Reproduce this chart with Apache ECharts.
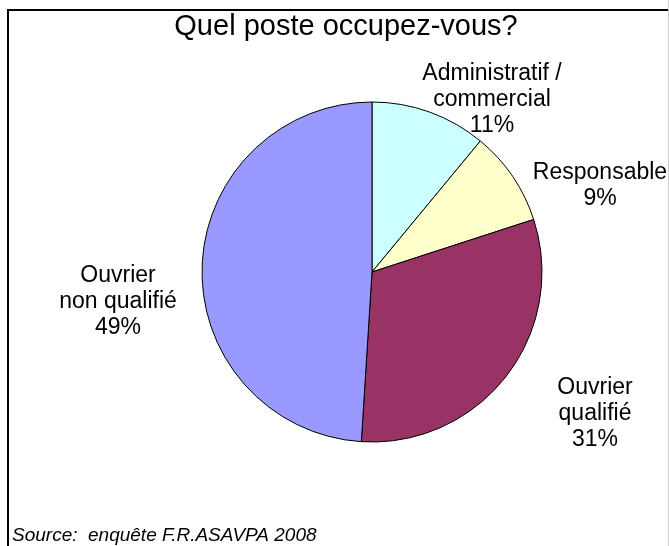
<!DOCTYPE html>
<html>
<head>
<meta charset="utf-8">
<script src="https://cdn.jsdelivr.net/npm/echarts@6/dist/echarts.min.js"></script>
<style>html,body{margin:0;padding:0;background:#fff}#c{width:669px;height:546px}</style>
</head>
<body>
<div id="c"></div>
<script>
const titleText = 'Quel poste occupez-vous?';
const sourceText = 'Source:  enquête F.R.ASAVPA 2008';
const categories = ['Administratif /\ncommercial', 'Responsable', 'Ouvrier\nqualifié', 'Ouvrier\nnon qualifié'];
const values = [11, 9, 31, 49];
const colors = ['#CCFFFF', '#FFFFCC', '#993366', '#9999FF'];

const labelPos = [[492, 100], [600, 186], [595, 414], [118, 302]];
const font = '"Liberation Sans", Arial, sans-serif';

const chart = echarts.init(document.getElementById('c'), null, {renderer: 'canvas'});
chart.setOption({
  animation: false,
  backgroundColor: '#fff',
  title: {
    text: titleText, left: 341, top: 7, textAlign: 'center',
    textStyle: {fontFamily: font, fontSize: 29, fontWeight: 'normal', color: '#000'}
  },
  graphic: [
    {type: 'rect', shape: {x: 8, y: 10, width: 720, height: 600}, style: {fill: 'none', stroke: '#000', lineWidth: 2}, silent: true},
    {type: 'line', shape: {x1: 668.5, y1: 0, x2: 668.5, y2: 546}, style: {stroke: '#cccccc', lineWidth: 1}, silent: true},
    {type: 'text', left: 12, top: 526, style: {text: sourceText, font: 'italic 19px ' + font, fill: '#000'}}
  ],
  series: [{
    type: 'pie',
    center: [372, 272],
    radius: 170,
    startAngle: 90,
    clockwise: true,
    data: categories.map((n, i) => ({name: n, value: values[i], itemStyle: {color: colors[i]}})),
    itemStyle: {borderColor: '#000', borderWidth: 1},
    label: {
      show: true, position: 'outside', formatter: '{b}\n{c}%', overflow: 'none', edgeDistance: 0,
      fontFamily: font, fontSize: 23, lineHeight: 26, color: '#000', align: 'center'
    },
    labelLine: {show: false},
    labelLayout: function (p) {
      const pos = labelPos[p.dataIndex];
      return {x: pos[0], y: pos[1], align: 'center', verticalAlign: 'middle'};
    },
    emphasis: {disabled: true}
  }]
});
</script>
</body>
</html>
